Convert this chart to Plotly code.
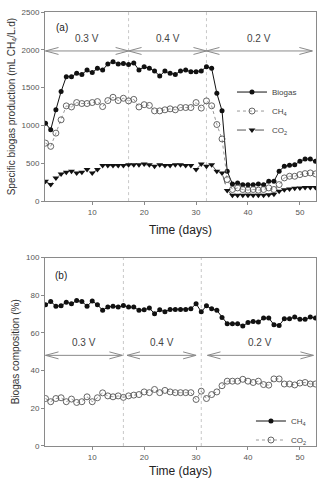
import plotly.graph_objects as go

days = list(range(1, 54))

biogas_prod = [1030, 943, 1207, 1448, 1645, 1645, 1689, 1675, 1733, 1700,
               1755, 1733, 1812, 1842, 1812, 1820, 1805, 1827, 1733, 1777,
               1755, 1720, 1654, 1720, 1689, 1675, 1720, 1733, 1711, 1711,
               1720, 1777, 1755, 1425, 1195, 395, 228, 241, 215, 215,
               215, 228, 215, 263, 263, 395, 460, 474, 482, 526,
               557, 557, 526]
ch4_prod = [767, 724, 899, 1075, 1259, 1245, 1303, 1290, 1290, 1303,
            1316, 1250, 1329, 1373, 1329, 1360, 1325, 1345, 1245, 1275,
            1265, 1193, 1193, 1207, 1220, 1207, 1237, 1237, 1237, 1303,
            1230, 1325, 1260, 1013, 822, 285, 154, 175, 154, 145,
            154, 145, 154, 175, 154, 219, 307, 329, 329, 351,
            364, 373, 360]
co2_prod = [263, 219, 307, 360, 382, 395, 373, 382, 417, 373,
            417, 470, 470, 470, 470, 470, 480, 480, 480, 490,
            480, 460, 480, 470, 470, 480, 480, 470, 470, 417,
            490, 460, 480, 395, 373, 140, 79, 79, 79, 79,
            79, 79, 79, 85, 90, 130, 150, 160, 170, 175,
            180, 180, 180]

ch4_pct = [75.0, 76.7, 74.2, 74.4, 76.3, 75.5, 77.2, 76.7, 74.2, 76.9,
           75.0, 72.0, 73.7, 74.2, 73.7, 74.5, 73.7, 73.7, 72.0, 72.3,
           73.2, 70.2, 72.3, 71.2, 72.5, 72.5, 72.5, 72.5, 72.8, 75.5,
           71.2, 74.4, 72.8, 72.0, 68.2, 64.9, 64.9, 64.9, 63.7, 65.5,
           66.1, 65.8, 67.9, 67.9, 64.4, 64.0, 67.5, 67.5, 68.4, 67.2,
           67.2, 68.4, 67.9]
co2_pct = [25.2, 23.5, 25.2, 25.6, 23.5, 24.9, 23.1, 23.5, 26.1, 23.5,
           25.6, 28.2, 26.6, 26.1, 26.6, 25.8, 26.6, 27.0, 27.3, 28.7,
           28.3, 30.0, 28.3, 29.5, 28.7, 28.3, 28.3, 28.3, 28.3, 24.7,
           29.1, 25.2, 27.3, 28.7, 32.0, 34.4, 34.4, 34.4, 35.4, 34.4,
           33.7, 34.4, 32.6, 32.3, 35.6, 35.6, 32.9, 32.9, 32.4, 33.4,
           33.7, 32.9, 32.9]

# phases (voltage periods)
phase_labels = ["0.3 V", "0.4 V", "0.2 V"]
phases_a = [(1, 17), (17, 32), (32, 52.4)]
phases_b = [(1, 15.8), (16.7, 30.0), (32.2, 52.6)]
vlines_a = [17, 32]
vlines_b = [16, 31]

FONT = "Liberation Sans, Arial, sans-serif"
GRAY = "#8a8a8a"
MS = 5

fig = go.Figure()

# Panel (a)
fig.add_trace(go.Scatter(x=days, y=biogas_prod, name="Biogas", mode="lines+markers",
                         line=dict(color="#111", width=1),
                         marker=dict(symbol="circle", size=MS, color="#111"),
                         xaxis="x", yaxis="y", legend="legend"))
fig.add_trace(go.Scatter(x=days, y=ch4_prod, name="CH<sub>4</sub>", mode="lines+markers",
                         line=dict(color="#999", width=1, dash="dot"),
                         marker=dict(symbol="circle-open", size=MS + 1, color="#555", line=dict(width=0.9)),
                         xaxis="x", yaxis="y", legend="legend"))
fig.add_trace(go.Scatter(x=days, y=co2_prod, name="CO<sub>2</sub>", mode="lines+markers",
                         line=dict(color="#555", width=1, dash="dash"),
                         marker=dict(symbol="triangle-down", size=MS + 1, color="#111"),
                         xaxis="x", yaxis="y", legend="legend"))

# Panel (b)
fig.add_trace(go.Scatter(x=days, y=ch4_pct, name="CH<sub>4</sub>", mode="lines+markers",
                         line=dict(color="#111", width=1),
                         marker=dict(symbol="circle", size=MS, color="#111"),
                         xaxis="x2", yaxis="y2", legend="legend2"))
fig.add_trace(go.Scatter(x=days, y=co2_pct, name="CO<sub>2</sub>", mode="lines+markers",
                         line=dict(color="#999", width=1, dash="dot"),
                         marker=dict(symbol="circle-open", size=MS + 1, color="#555", line=dict(width=0.9)),
                         xaxis="x2", yaxis="y2", legend="legend2"))

shapes = []
annotations = []


def add_arrows(phases, yval, label_y, dx, dy, xref, yref):
    for (x0, x1), lab in zip(phases, phase_labels):
        shapes.append(dict(type="line", x0=x0, x1=x1, y0=yval, y1=yval, xref=xref, yref=yref,
                           line=dict(color=GRAY, width=1)))
        shapes.append(dict(type="path", xref=xref, yref=yref,
                           path=f"M {x0+dx} {yval+dy} L {x0} {yval} L {x0+dx} {yval-dy}",
                           line=dict(color=GRAY, width=1)))
        shapes.append(dict(type="path", xref=xref, yref=yref,
                           path=f"M {x1-dx} {yval+dy} L {x1} {yval} L {x1-dx} {yval-dy}",
                           line=dict(color=GRAY, width=1)))
        annotations.append(dict(x=(x0 + x1) / 2, y=label_y, xref=xref, yref=yref, text=lab,
                                showarrow=False, font=dict(family=FONT, size=10, color="#444")))


def add_vlines(xs, xref, yref_domain):
    for xv in xs:
        shapes.append(dict(type="line", x0=xv, x1=xv, y0=0, y1=1, xref=xref, yref=yref_domain,
                           line=dict(color="#c8c8c8", width=1, dash="dot"), layer="below"))


add_vlines(vlines_a, "x", "y domain")
add_vlines(vlines_b, "x2", "y2 domain")
add_arrows(phases_a, 1985, 2150, 2.5, 46, "x", "y")
add_arrows(phases_b, 48.1, 54.7, 2.5, 1.85, "x2", "y2")

annotations.append(dict(x=4.1, y=2300, xref="x", yref="y", text="(a)", showarrow=False,
                        font=dict(family=FONT, size=10, color="#222")))
annotations.append(dict(x=4.0, y=90.5, xref="x2", yref="y2", text="(b)", showarrow=False,
                        font=dict(family=FONT, size=10, color="#222")))

# x-axis titles as paper annotations
xtitle_font = dict(family=FONT, size=12, color="#222")
annotations.append(dict(x=0.5, y=0.4977, xref="paper", yref="paper", text="Time (days)",
                        showarrow=False, xanchor="center", yanchor="middle", font=xtitle_font))
annotations.append(dict(x=0.5, y=-0.0573, xref="paper", yref="paper", text="Time (days)",
                        showarrow=False, xanchor="center", yanchor="middle", font=xtitle_font))

axis_common = dict(showline=True, mirror=True, linecolor=GRAY, linewidth=1, ticks="outside",
                   ticklen=3, tickcolor=GRAY, showgrid=False, zeroline=False,
                   tickfont=dict(family=FONT, size=8, color="#555"))

fig.update_layout(
    width=325, height=478,
    margin=dict(l=45, r=8, t=10, b=32),
    paper_bgcolor="white", plot_bgcolor="white",
    font=dict(family=FONT, color="#333"),
    xaxis=dict(domain=[0, 1], anchor="y", range=[0.9, 53.1], tickvals=[10, 20, 30, 40, 50],
               **axis_common),
    yaxis=dict(domain=[0.5642, 1], anchor="x", range=[0, 2500], tickvals=[0, 500, 1000, 1500, 2000, 2500],
               title=dict(text="Specific biogas production (mL CH<sub>4</sub>/L.d)",
                          font=dict(family=FONT, size=10, color="#333"), standoff=4),
               **axis_common),
    xaxis2=dict(domain=[0, 1], anchor="y2", range=[0.9, 53.1], tickvals=[10, 20, 30, 40, 50],
                **axis_common),
    yaxis2=dict(domain=[0, 0.4342], anchor="x2", range=[0, 100], tickvals=[0, 20, 40, 60, 80, 100],
                title=dict(text="Biogas composition (%)", font=dict(family=FONT, size=10, color="#333"), standoff=4),
                **axis_common),
    legend=dict(x=0.69, y=0.849, xanchor="left", yanchor="top", bgcolor="rgba(0,0,0,0)",
                font=dict(family=FONT, size=8, color="#444"), itemwidth=30, tracegroupgap=0),
    legend2=dict(x=0.76, y=0.091, xanchor="left", yanchor="top", bgcolor="rgba(0,0,0,0)",
                 font=dict(family=FONT, size=8, color="#444"), itemwidth=30, tracegroupgap=0),
    shapes=shapes,
    annotations=annotations,
    showlegend=True,
)

fig.write_html("out.html")
